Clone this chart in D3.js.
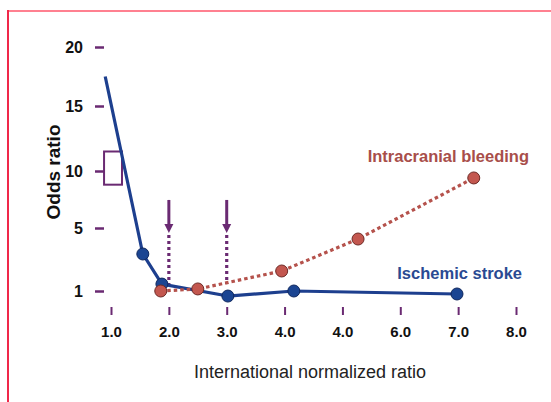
<!DOCTYPE html>
<html>
<head>
<meta charset="utf-8">
<script src="https://cdn.jsdelivr.net/npm/d3@7"></script>
<style>
	body { margin: 0; background: #ffffff; }
	svg { display: block; font-family: "Liberation Sans", Arial, sans-serif; }
</style>
</head>
<body>
<div id="vis"></div>
<script>
// data
const X_TICKS = [1, 2, 3, 4, 5, 6, 7, 8];
const X_TICK_LABELS = ["1.0", "2.0", "3.0", "4.0", "4.0", "6.0", "7.0", "8.0"];
const Y_TICKS = [1, 5, 10, 15, 20];

const ISCHEMIC_INR = [0.9, 1.55, 1.88, 3.02, 4.16, 6.98];
const ISCHEMIC_OR = [17.5, 3.35, 1.44, 0.68, 1.0, 0.81];

const BLEEDING_INR = [1.86, 2.5, 3.95, 5.27, 7.27];
const BLEEDING_OR = [1.0, 1.13, 2.27, 4.3, 9.39];

const ARROW_INR = [2.0, 3.0];
const ARROW_TOP = 7.46;
const ARROW_TIP = 4.68;
const ARROW_END = 1.44;

const BOX_INR = [0.88, 1.19];
const BOX_OR = [8.8, 11.5];

// declare constants
const FRAME_WIDTH = 551;
const FRAME_HEIGHT = 402;

const PURPLE = "#6a2a72";
const BLUE = "#1d3f8e";
const RED = "#b5524c";

const FRAME =
d3.select("#vis")
	.append("svg")
		.attr("width", FRAME_WIDTH)
		.attr("height", FRAME_HEIGHT);

// border
FRAME.append("line")
		.attr("x1", 8).attr("x2", FRAME_WIDTH)
		.attr("y1", 11).attr("y2", 11)
		.attr("stroke", "#ff8090")
		.attr("stroke-width", 2);
FRAME.append("line")
		.attr("x1", 8).attr("x2", 8)
		.attr("y1", 10).attr("y2", FRAME_HEIGHT)
		.attr("stroke", "#f0284a")
		.attr("stroke-width", 2);

// scales
const X_SCALE = d3.scaleLinear()
					.domain([1, 8])
					.range([111, 516]);
// the figure's y axis is not evenly spaced, so piecewise
const Y_SCALE = d3.scaleLinear()
					.domain([1, 5, 10, 15, 20])
					.range([291, 228, 171, 106, 47]);

// x axis
const X_AXIS = FRAME.append("g")
		.attr("transform", "translate(0,307)")
		.call(d3.axisBottom(X_SCALE)
				.tickValues(X_TICKS)
				.tickSize(8)
				.tickPadding(11)
				.tickFormat((d, i) => X_TICK_LABELS[i]));
X_AXIS.select(".domain").remove();
X_AXIS.selectAll("line")
		.attr("stroke", PURPLE)
		.attr("stroke-width", 2);
X_AXIS.selectAll("text")
		.attr("fill", "#111")
		.attr("font-size", "15px")
		.attr("font-weight", "bold")
		.attr("font-family", "Liberation Sans, Arial, sans-serif");

// y axis
const Y_AXIS = FRAME.append("g")
		.attr("transform", "translate(104,0)")
		.call(d3.axisLeft(Y_SCALE)
				.tickValues(Y_TICKS)
				.tickSize(9)
				.tickPadding(12));
Y_AXIS.select(".domain").remove();
Y_AXIS.selectAll("line")
		.attr("stroke", PURPLE)
		.attr("stroke-width", 2.5);
Y_AXIS.selectAll("text")
		.attr("fill", "#111")
		.attr("font-size", "16px")
		.attr("font-weight", "bold")
		.attr("font-family", "Liberation Sans, Arial, sans-serif");

// box at 10
FRAME.append("rect")
		.attr("x", X_SCALE(BOX_INR[0]))
		.attr("y", Y_SCALE(BOX_OR[1]))
		.attr("width", X_SCALE(BOX_INR[1]) - X_SCALE(BOX_INR[0]))
		.attr("height", Y_SCALE(BOX_OR[0]) - Y_SCALE(BOX_OR[1]))
		.attr("fill", "none")
		.attr("stroke", PURPLE)
		.attr("stroke-width", 2);

// axis titles
FRAME.append("text")
		.attr("transform", "translate(60,172) rotate(-90)")
		.attr("text-anchor", "middle")
		.attr("font-size", "19px")
		.attr("font-weight", "bold")
		.attr("fill", "#111")
		.text("Odds ratio");

FRAME.append("text")
		.attr("x", 310)
		.attr("y", 378)
		.attr("text-anchor", "middle")
		.attr("font-size", "18px")
		.attr("fill", "#222")
		.text("International normalized ratio");

// arrows
const ARROWS = FRAME.selectAll(".arrow")
		.data(ARROW_INR)
		.enter()
		.append("g")
			.attr("class", "arrow");
ARROWS.append("line")
		.attr("x1", (d) => X_SCALE(d))
		.attr("x2", (d) => X_SCALE(d))
		.attr("y1", Y_SCALE(ARROW_TOP))
		.attr("y2", Y_SCALE(ARROW_TIP) - 6)
		.attr("stroke", PURPLE)
		.attr("stroke-width", 3);
ARROWS.append("path")
		.attr("d", (d) => {
			let x = X_SCALE(d);
			let y = Y_SCALE(ARROW_TIP);
			return "M" + (x - 4.5) + "," + (y - 9) + "L" + (x + 4.5) + "," + (y - 9) + "L" + x + "," + y + "Z";
		})
		.attr("fill", PURPLE);
ARROWS.append("line")
		.attr("x1", (d) => X_SCALE(d))
		.attr("x2", (d) => X_SCALE(d))
		.attr("y1", Y_SCALE(ARROW_TIP) + 2)
		.attr("y2", Y_SCALE(ARROW_END))
		.attr("stroke", PURPLE)
		.attr("stroke-width", 3.2)
		.attr("stroke-dasharray", "3,3");

// ischemic stroke line
const ISCHEMIC = ISCHEMIC_INR.map((d, i) => ({x: d, y: ISCHEMIC_OR[i]}));
const BLEEDING = BLEEDING_INR.map((d, i) => ({x: d, y: BLEEDING_OR[i]}));

const LINE = d3.line()
				.x((d) => X_SCALE(d.x))
				.y((d) => Y_SCALE(d.y));

FRAME.append("path")
		.datum(ISCHEMIC)
		.attr("d", LINE)
		.attr("fill", "none")
		.attr("stroke", BLUE)
		.attr("stroke-width", 3.2)
		.attr("stroke-linejoin", "round");

FRAME.selectAll(".ipoint")
		.data(ISCHEMIC.slice(1))
		.enter()
		.append("circle")
			.attr("class", "ipoint")
			.attr("cx", (d) => X_SCALE(d.x))
			.attr("cy", (d) => Y_SCALE(d.y))
			.attr("r", 6)
			.attr("fill", "#1b4592")
			.attr("stroke", "#10285e")
			.attr("stroke-width", 1);

// intracranial bleeding line
FRAME.append("path")
		.datum(BLEEDING)
		.attr("d", LINE)
		.attr("fill", "none")
		.attr("stroke", RED)
		.attr("stroke-width", 3.2)
		.attr("stroke-dasharray", "3.5,3");

FRAME.selectAll(".bpoint")
		.data(BLEEDING)
		.enter()
		.append("circle")
			.attr("class", "bpoint")
			.attr("cx", (d) => X_SCALE(d.x))
			.attr("cy", (d) => Y_SCALE(d.y))
			.attr("r", 6)
			.attr("fill", "#c3574f")
			.attr("stroke", "#6e2a26")
			.attr("stroke-width", 1);

// series labels
FRAME.append("text")
		.attr("x", 529)
		.attr("y", 162)
		.attr("text-anchor", "end")
		.attr("font-size", "16.5px")
		.attr("font-weight", "bold")
		.attr("fill", "#a84e4a")
		.text("Intracranial bleeding");

FRAME.append("text")
		.attr("x", 522)
		.attr("y", 279)
		.attr("text-anchor", "end")
		.attr("font-size", "16.5px")
		.attr("font-weight", "bold")
		.attr("fill", "#2a4a92")
		.text("Ischemic stroke");
</script>
</body>
</html>
